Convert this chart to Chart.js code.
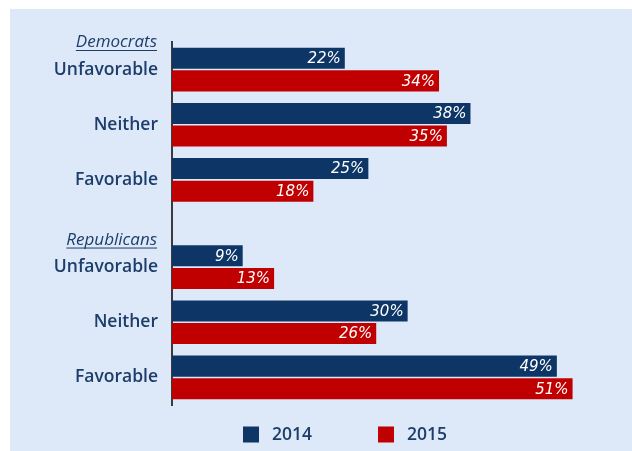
<!DOCTYPE html>
<html>
<head>
<meta charset="utf-8">
<script src="https://cdn.jsdelivr.net/npm/chart.js@4/dist/chart.umd.min.js"></script>
<style>
  html, body { margin: 0; padding: 0; background: #ffffff; overflow: hidden; }
  #panel { position: absolute; left: 10px; top: 9px; width: 622px; height: 442px; background: #dde9f9; }
  #chart { position: absolute; left: 0; top: 0; }
</style>
</head>
<body>
<div id="panel"></div>
<canvas id="chart" width="632" height="451"></canvas>
<script>
// party groups and answers
const groupNames = ['Democrats', 'Republicans'];
const responses = ['Unfavorable', 'Neither', 'Favorable'];
const years = ['2014', '2015'];

// percentages
const dem2014 = [22, 38, 25];
const dem2015 = [34, 35, 18];
const rep2014 = [9, 30, 49];
const rep2015 = [13, 26, 51];

// colours
const navy = '#0d3667';
const red = '#c00000';
const textColor = '#1d3d6b';
const axisColor = '#3b3b3b';

const labelFont = { family: 'Open Sans', size: 17.5, weight: '600' };

// every y axis keeps the same width so the stacked axes line up
const fixWidth = scale => { scale.width = 162; };

function groupAxis(weight, labels, showTicks) {
    return {
        type: 'category',
        labels: labels,
        position: 'left',
        stack: 'groups',
        stackWeight: weight,
        offset: true,
        grid: { display: false, drawTicks: false },
        border: { display: true, color: axisColor, width: 2 },
        ticks: { display: showTicks, color: textColor, font: labelFont, padding: 14 },
        afterFit: fixWidth
    };
}

// percent labels inside the end of each bar
const valueLabels = {
    id: 'valueLabels',
    afterDatasetsDraw(chart) {
        const ctx = chart.ctx;
        ctx.save();
        ctx.fillStyle = '#ffffff';
        ctx.font = 'italic 15px "DejaVu Sans"';
        ctx.textAlign = 'right';
        ctx.textBaseline = 'middle';
        chart.data.datasets.forEach((ds, i) => {
            const meta = chart.getDatasetMeta(i);
            meta.data.forEach((bar, j) => {
                ctx.fillText(ds.data[j] + '%', bar.x - 4, bar.y + 1);
            });
        });
        ctx.restore();
    }
};

// underlined italic group titles above each block
const groupTitles = {
    id: 'groupTitles',
    afterDraw(chart) {
        const ctx = chart.ctx;
        const axes = [chart.scales.yDem, chart.scales.yRep];
        ctx.save();
        ctx.fillStyle = textColor;
        ctx.strokeStyle = textColor;
        ctx.lineWidth = 1;
        ctx.font = 'italic 17px "Open Sans"';
        ctx.textAlign = 'right';
        ctx.textBaseline = 'alphabetic';
        const right = chart.chartArea.left - 15;
        axes.forEach((axis, i) => {
            const base = axis.top + 5;
            const w = ctx.measureText(groupNames[i]).width;
            ctx.fillText(groupNames[i], right, base);
            ctx.beginPath();
            ctx.moveTo(right - w, base + 3.5);
            ctx.lineTo(right, base + 3.5);
            ctx.stroke();
        });
        ctx.restore();
    }
};

// legend under the plot
const yearLegend = {
    id: 'yearLegend',
    afterDraw(chart) {
        const ctx = chart.ctx;
        const items = [
            { text: years[0], color: navy, x: 243 },
            { text: years[1], color: red, x: 378 }
        ];
        const y = 434.5;
        ctx.save();
        ctx.font = '600 17.5px "Open Sans"';
        ctx.textAlign = 'left';
        ctx.textBaseline = 'middle';
        items.forEach(it => {
            ctx.fillStyle = it.color;
            ctx.fillRect(it.x, y - 8, 16, 16);
            ctx.fillStyle = textColor;
            ctx.fillText(it.text, it.x + 29, y + 1);
        });
        ctx.restore();
    }
};

// indexAxis is set per dataset so the two party axes are not treated as extra bar groups
const barStyle = { indexAxis: 'y', barPercentage: 0.93, categoryPercentage: 0.82 };

new Chart(document.getElementById('chart'), {
    type: 'bar',
    data: {
        datasets: [
            { label: years[0], data: dem2014, backgroundColor: navy, yAxisID: 'yDem', ...barStyle },
            { label: years[1], data: dem2015, backgroundColor: red, yAxisID: 'yDem', ...barStyle },
            { label: years[0], data: rep2014, backgroundColor: navy, yAxisID: 'yRep', ...barStyle },
            { label: years[1], data: rep2015, backgroundColor: red, yAxisID: 'yRep', ...barStyle }
        ]
    },
    options: {
        responsive: false,
        animation: false,
        layout: { padding: { left: 10, top: 42, right: 28, bottom: 46 } },
        plugins: {
            legend: { display: false },
            tooltip: { enabled: false }
        },
        scales: {
            x: { type: 'linear', min: 0, max: 55, offset: false, display: false },
            // stacked axes are placed bottom-up, so Republicans come first
            yRep: groupAxis(165, responses, true),
            yGap: groupAxis(32, [''], false),
            yDem: groupAxis(165, responses, true)
        }
    },
    plugins: [valueLabels, groupTitles, yearLegend]
});
</script>
</body>
</html>
